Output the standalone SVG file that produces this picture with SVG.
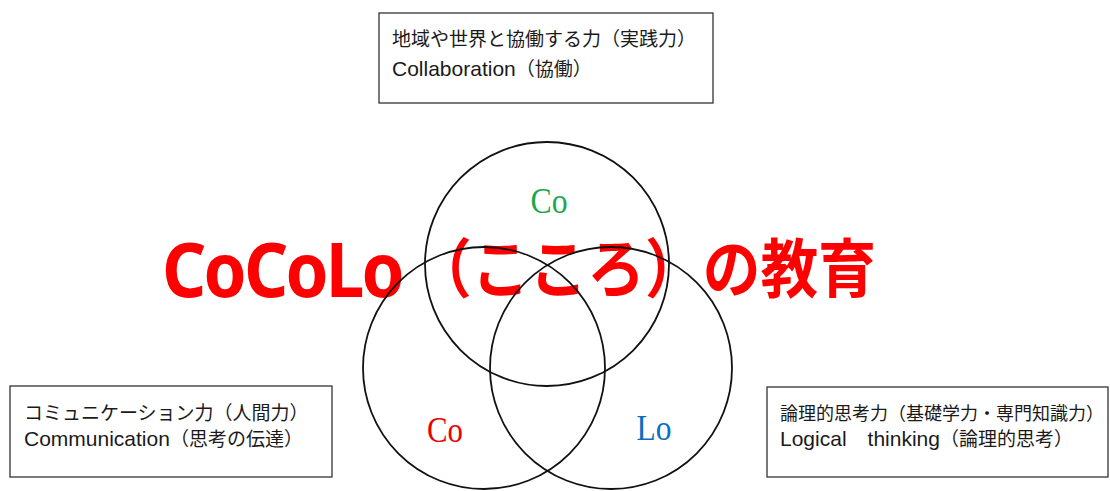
<svg xmlns="http://www.w3.org/2000/svg" width="1110" height="491" viewBox="0 0 1110 491">
  <style>
    .box { fill: #ffffff; stroke: #333333; stroke-width: 1.3; }
    .lbl { font-family: "Liberation Sans", "Noto Sans CJK JP", sans-serif; font-size: 21px; fill: #1a1a1a; }
    .jp { font-family: "Noto Sans CJK JP", sans-serif; font-size: 19px; }
    .ring { fill: none; stroke: #111111; stroke-width: 1.8; }
    .tag { font-family: "Liberation Serif", "Times New Roman", serif; font-size: 36px; }
    .title-lat { font-family: "Noto Sans", "Open Sans", sans-serif; font-weight: bold; font-size: 75px; letter-spacing: -3px; fill: #ff0000; }
    .title-jp { font-family: "Noto Sans CJK JP", sans-serif; font-weight: bold; font-size: 64px; fill: #ff0000; }
  </style>
  <rect width="1110" height="491" fill="#ffffff"/>

  <g id="title">
    <text class="title-lat" x="162" y="297" textLength="240" lengthAdjust="spacingAndGlyphs">CoCoLo</text>
    <text class="title-jp" x="414" y="292" textLength="462" lengthAdjust="spacingAndGlyphs">（こころ）の教育</text>
  </g>

  <g id="circle-collaboration">
    <circle class="ring" cx="547" cy="264" r="122"/>
    <text class="tag" x="549" y="213" text-anchor="middle" fill="#1ea64f" textLength="37" lengthAdjust="spacingAndGlyphs">Co</text>
  </g>
  <g id="circle-communication">
    <circle class="ring" cx="484" cy="368" r="121"/>
    <text class="tag" x="445" y="442" text-anchor="middle" fill="#ee0000" textLength="36" lengthAdjust="spacingAndGlyphs">Co</text>
  </g>
  <g id="circle-logical">
    <circle class="ring" cx="611" cy="368" r="121"/>
    <text class="tag" x="654" y="440" text-anchor="middle" fill="#0b6fbe" textLength="35" lengthAdjust="spacingAndGlyphs">Lo</text>
  </g>

  <g id="box-collaboration">
    <rect class="box" x="379" y="13" width="334" height="90"/>
    <text class="lbl" x="392" y="46"><tspan class="jp">地域や世界と協働する力（実践力）</tspan></text>
    <text class="lbl" x="392" y="76">Collaboration<tspan class="jp">（協働）</tspan></text>
  </g>

  <g id="box-communication">
    <rect class="box" x="10" y="386" width="322" height="91"/>
    <text class="lbl" x="24" y="420"><tspan class="jp">コミュニケーション力（人間力）</tspan></text>
    <text class="lbl" x="24" y="446">Communication<tspan class="jp">（思考の伝達）</tspan></text>
  </g>

  <g id="box-logical">
    <rect class="box" x="767" y="387" width="341" height="90"/>
    <text class="lbl" x="780" y="420"><tspan class="jp" style="font-size:18px">論理的思考力（基礎学力・専門知識力）</tspan></text>
    <text class="lbl" x="780" y="446">Logical　thinking<tspan class="jp">（論理的思考）</tspan></text>
  </g>

  <g id="connectors"/>
</svg>
